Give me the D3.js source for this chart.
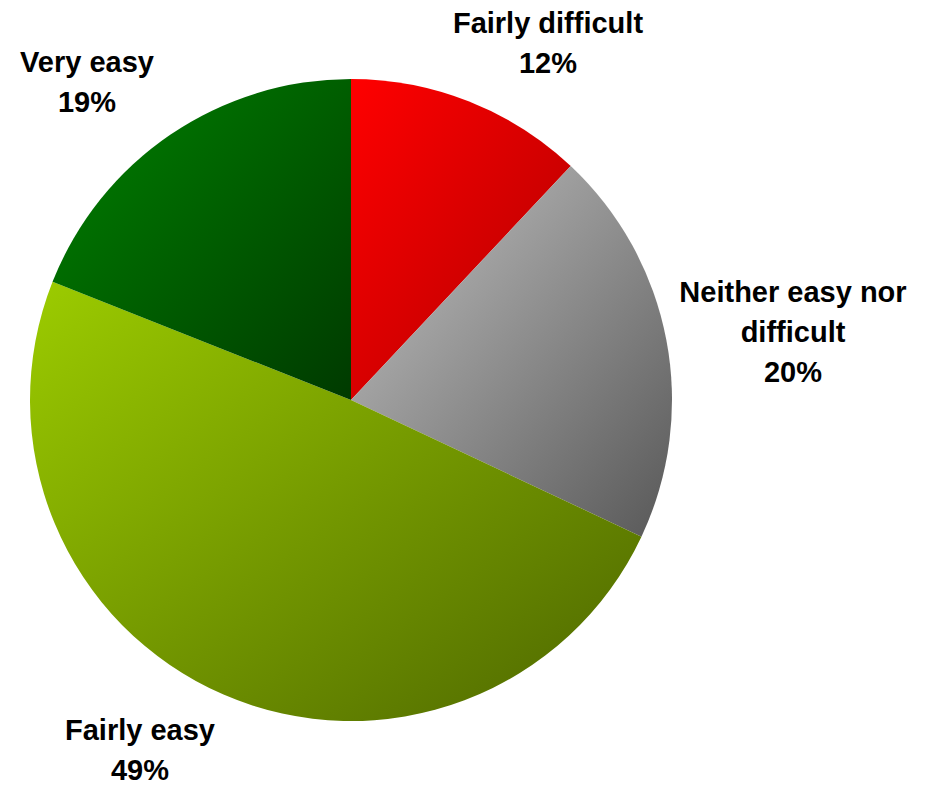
<!DOCTYPE html>
<html>
<head>
<meta charset="utf-8">
<script src="https://cdn.jsdelivr.net/npm/d3@7/dist/d3.min.js"></script>
<style>
  body { margin: 0; background: #fff; }
  text { font-family: "Liberation Sans", Arial, sans-serif; font-weight: bold; fill: #000; }
</style>
</head>
<body>
<svg id="pieSvg" width="932" height="787"></svg>
<script>
// data
const categories = ["Fairly difficult", "Neither easy nor difficult", "Fairly easy", "Very easy"];
const shares = [12, 20, 49, 19];
const labelLines = [["Fairly difficult"], ["Neither easy nor", "difficult"], ["Fairly easy"], ["Very easy"]];

// gradient ends, light (top left) to dark (bottom right)
const lightColors = ["#ff0000", "#c4c4c4", "#9ccc00", "#008200"];
const darkColors = ["#b00000", "#585858", "#4d6600", "#003a00"];

// label anchors (centre x, first baseline y)
const labelPos = [[548, 33], [793, 302], [140, 740], [87, 72]];

const pieSvg = d3.select("#pieSvg");
let cx = 351, cy = 400, radius = 321;
let lineStep = 40;

let defs = pieSvg.append("defs");
categories.forEach(function (c, i) {
  let grad = defs.append("linearGradient")
    .attr("id", "grad" + i)
    .attr("x1", 0).attr("y1", 0).attr("x2", 1).attr("y2", 1);
  grad.append("stop").attr("offset", "0%").attr("stop-color", lightColors[i]);
  grad.append("stop").attr("offset", "100%").attr("stop-color", darkColors[i]);
});

let pie = d3.pie().sort(null).value(function (d) { return d; });
let arc = d3.arc().innerRadius(0).outerRadius(radius);

let g = pieSvg.append("g").attr("transform", "translate(" + cx + "," + cy + ")");
g.selectAll(".slice")
  .data(pie(shares))
  .enter().append("path")
  .attr("class", "slice")
  .attr("d", arc)
  .style("fill", function (d, i) { return "url(#grad" + i + ")"; });

// labels
categories.forEach(function (c, i) {
  let lines = labelLines[i].concat([shares[i] + "%"]);
  let t = pieSvg.append("text")
    .attr("x", labelPos[i][0])
    .attr("y", labelPos[i][1])
    .attr("text-anchor", "middle")
    .style("font-size", "29px");
  lines.forEach(function (l, j) {
    t.append("tspan")
      .attr("x", labelPos[i][0])
      .attr("y", labelPos[i][1] + j * lineStep)
      .text(l);
  });
});
</script>
</body>
</html>
